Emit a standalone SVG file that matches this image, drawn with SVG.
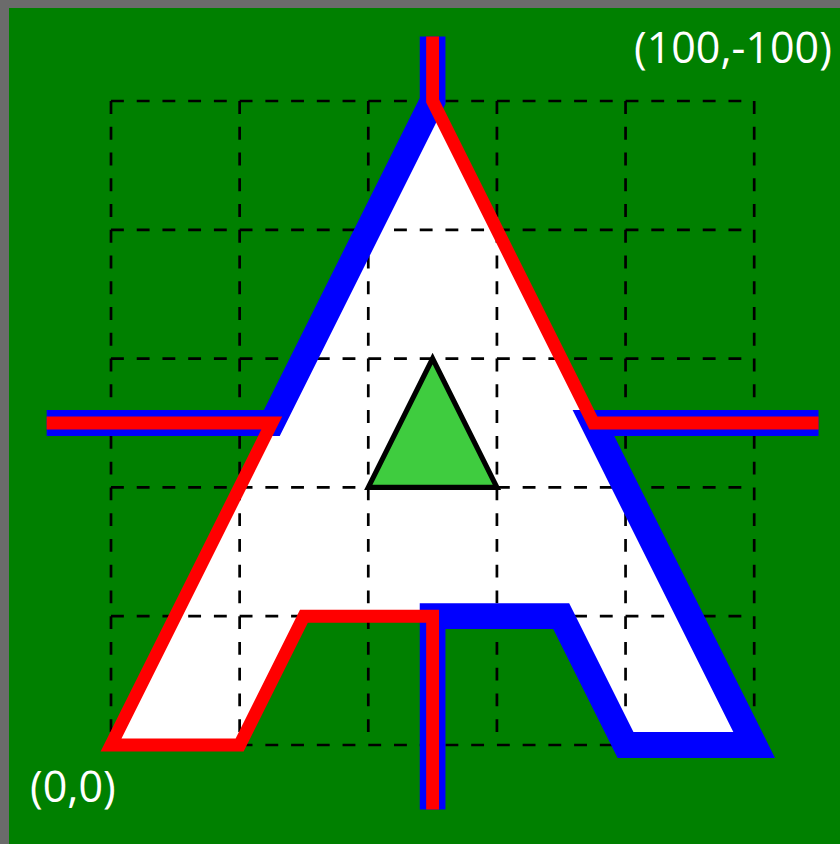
<svg xmlns="http://www.w3.org/2000/svg" width="840" height="844" viewBox="0 0 840 844">
<style>
.grid{fill:none;stroke:#000;stroke-width:0.42;stroke-dasharray:2 2}
.blue{fill:none;stroke:#0000ff;stroke-width:4;stroke-miterlimit:10}
.red{fill:none;stroke:#ff0000;stroke-width:2;stroke-miterlimit:10}
.lbl{font-family:"Open Sans","Liberation Sans",sans-serif;font-size:43px;fill:#ffffff}
</style>
<rect width="840" height="844" fill="#6b6b6b"/>
<rect x="9" y="8" width="831" height="836" fill="#008000"/>
<g transform="translate(111,745) scale(6.432,6.44)">
  <g id="letterA">
    <polygon points="0,0 20,0 30,-20 70,-20 80,0 100,0 50,-100" fill="#ffffff"/>
  </g>
  <g id="grid" class="grid">
    <path d="M0,-100H100M0,-80H100M0,-60H100M0,-40H100M0,-20H100M0,0H100M0,-100V0M20,-100V0M40,-100V0M60,-100V0M80,-100V0M100,-100V0"/>
  </g>
  <g id="triangle">
    <polygon points="40,-40 60,-40 50,-60" fill="#3fcc3f" stroke="#000000" stroke-width="0.8"/>
  </g>
  <g id="connectors">
    <path id="blue-top-left" class="blue" d="M-10,-50H25L50,-100V-110"/>
    <path id="blue-bottom-right" class="blue" d="M110,-50H75L100,0H80L70,-20H50V10"/>
    <path id="red-top-right" class="red" d="M50,-110V-100L75,-50H110"/>
    <path id="red-bottom-left" class="red" d="M50,10V-20H30L20,0H0L25,-50H-10"/>
  </g>
</g>
<g id="label-origin"><text class="lbl" x="30" y="802">(0,0)</text></g>
<g id="label-corner"><text class="lbl" x="634" y="63">(100,-100)</text></g>
</svg>
